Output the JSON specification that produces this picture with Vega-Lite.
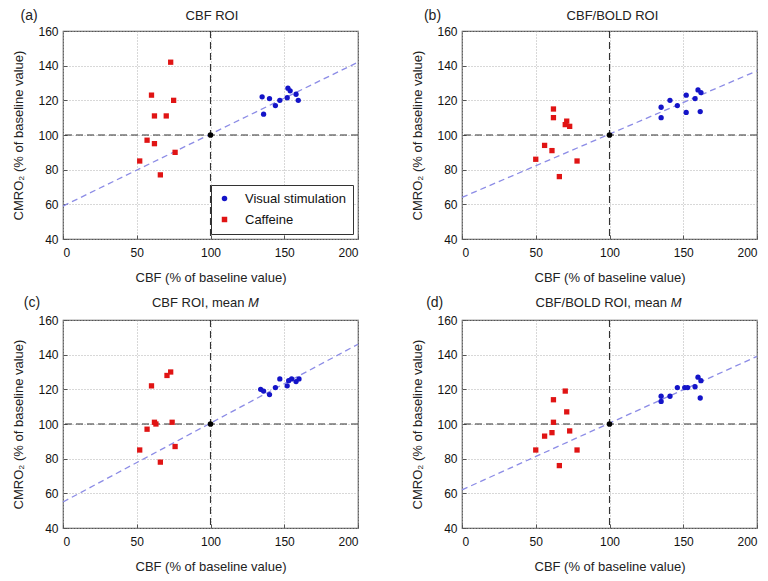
{
  "$schema": "https://vega.github.io/schema/vega-lite/v6.json",
  "background": "white",
  "padding": {"left": 12, "top": 8, "right": 5, "bottom": 4},
  "columns": 2,
  "spacing": {"row": 10, "column": 49},
  "resolve": {"scale": {"color": "independent", "shape": "independent"}, "legend": {"color": "independent", "shape": "independent"}},
  "datasets": {
    "one": [{"k": 1}],
    "pts": [
      {"p": "a", "g": "Caffeine", "cbf": 73, "cmro2": 142},
      {"p": "a", "g": "Caffeine", "cbf": 60, "cmro2": 123},
      {"p": "a", "g": "Caffeine", "cbf": 75, "cmro2": 120},
      {"p": "a", "g": "Caffeine", "cbf": 62, "cmro2": 111},
      {"p": "a", "g": "Caffeine", "cbf": 70, "cmro2": 111},
      {"p": "a", "g": "Caffeine", "cbf": 57, "cmro2": 97},
      {"p": "a", "g": "Caffeine", "cbf": 62, "cmro2": 95},
      {"p": "a", "g": "Caffeine", "cbf": 76, "cmro2": 90},
      {"p": "a", "g": "Caffeine", "cbf": 52, "cmro2": 85},
      {"p": "a", "g": "Caffeine", "cbf": 66, "cmro2": 77},
      {"p": "a", "g": "Visual stimulation", "cbf": 135, "cmro2": 122},
      {"p": "a", "g": "Visual stimulation", "cbf": 140, "cmro2": 121},
      {"p": "a", "g": "Visual stimulation", "cbf": 147, "cmro2": 120},
      {"p": "a", "g": "Visual stimulation", "cbf": 144, "cmro2": 117},
      {"p": "a", "g": "Visual stimulation", "cbf": 136, "cmro2": 112},
      {"p": "a", "g": "Visual stimulation", "cbf": 152, "cmro2": 121.5},
      {"p": "a", "g": "Visual stimulation", "cbf": 152.5, "cmro2": 127},
      {"p": "a", "g": "Visual stimulation", "cbf": 154, "cmro2": 125.5},
      {"p": "a", "g": "Visual stimulation", "cbf": 158, "cmro2": 123.5},
      {"p": "a", "g": "Visual stimulation", "cbf": 159.5, "cmro2": 120},
      {"p": "b", "g": "Caffeine", "cbf": 62, "cmro2": 115},
      {"p": "b", "g": "Caffeine", "cbf": 62, "cmro2": 110},
      {"p": "b", "g": "Caffeine", "cbf": 71, "cmro2": 108},
      {"p": "b", "g": "Caffeine", "cbf": 70, "cmro2": 106},
      {"p": "b", "g": "Caffeine", "cbf": 73, "cmro2": 105},
      {"p": "b", "g": "Caffeine", "cbf": 56, "cmro2": 94},
      {"p": "b", "g": "Caffeine", "cbf": 61, "cmro2": 91},
      {"p": "b", "g": "Caffeine", "cbf": 50, "cmro2": 86},
      {"p": "b", "g": "Caffeine", "cbf": 78, "cmro2": 85},
      {"p": "b", "g": "Caffeine", "cbf": 66, "cmro2": 76},
      {"p": "b", "g": "Visual stimulation", "cbf": 135, "cmro2": 116},
      {"p": "b", "g": "Visual stimulation", "cbf": 135, "cmro2": 110},
      {"p": "b", "g": "Visual stimulation", "cbf": 141, "cmro2": 120},
      {"p": "b", "g": "Visual stimulation", "cbf": 146, "cmro2": 117},
      {"p": "b", "g": "Visual stimulation", "cbf": 152, "cmro2": 123},
      {"p": "b", "g": "Visual stimulation", "cbf": 152, "cmro2": 113},
      {"p": "b", "g": "Visual stimulation", "cbf": 158, "cmro2": 121},
      {"p": "b", "g": "Visual stimulation", "cbf": 160, "cmro2": 126},
      {"p": "b", "g": "Visual stimulation", "cbf": 162, "cmro2": 124.5},
      {"p": "b", "g": "Visual stimulation", "cbf": 161.5, "cmro2": 113.5},
      {"p": "c", "g": "Caffeine", "cbf": 73, "cmro2": 130},
      {"p": "c", "g": "Caffeine", "cbf": 70.5, "cmro2": 128},
      {"p": "c", "g": "Caffeine", "cbf": 60, "cmro2": 122},
      {"p": "c", "g": "Caffeine", "cbf": 62, "cmro2": 101},
      {"p": "c", "g": "Caffeine", "cbf": 63, "cmro2": 100},
      {"p": "c", "g": "Caffeine", "cbf": 74, "cmro2": 101},
      {"p": "c", "g": "Caffeine", "cbf": 57, "cmro2": 97},
      {"p": "c", "g": "Caffeine", "cbf": 76, "cmro2": 87},
      {"p": "c", "g": "Caffeine", "cbf": 52, "cmro2": 85},
      {"p": "c", "g": "Caffeine", "cbf": 66, "cmro2": 78},
      {"p": "c", "g": "Visual stimulation", "cbf": 134, "cmro2": 120},
      {"p": "c", "g": "Visual stimulation", "cbf": 136, "cmro2": 119},
      {"p": "c", "g": "Visual stimulation", "cbf": 140, "cmro2": 117},
      {"p": "c", "g": "Visual stimulation", "cbf": 144, "cmro2": 121},
      {"p": "c", "g": "Visual stimulation", "cbf": 147, "cmro2": 126},
      {"p": "c", "g": "Visual stimulation", "cbf": 152, "cmro2": 122},
      {"p": "c", "g": "Visual stimulation", "cbf": 153, "cmro2": 125},
      {"p": "c", "g": "Visual stimulation", "cbf": 155, "cmro2": 126},
      {"p": "c", "g": "Visual stimulation", "cbf": 158, "cmro2": 124.5},
      {"p": "c", "g": "Visual stimulation", "cbf": 160, "cmro2": 126},
      {"p": "d", "g": "Caffeine", "cbf": 70, "cmro2": 119},
      {"p": "d", "g": "Caffeine", "cbf": 62, "cmro2": 114},
      {"p": "d", "g": "Caffeine", "cbf": 71, "cmro2": 107},
      {"p": "d", "g": "Caffeine", "cbf": 62, "cmro2": 101},
      {"p": "d", "g": "Caffeine", "cbf": 61, "cmro2": 95},
      {"p": "d", "g": "Caffeine", "cbf": 73, "cmro2": 96},
      {"p": "d", "g": "Caffeine", "cbf": 56, "cmro2": 93},
      {"p": "d", "g": "Caffeine", "cbf": 50, "cmro2": 85},
      {"p": "d", "g": "Caffeine", "cbf": 78, "cmro2": 85},
      {"p": "d", "g": "Caffeine", "cbf": 66, "cmro2": 76},
      {"p": "d", "g": "Visual stimulation", "cbf": 135, "cmro2": 116},
      {"p": "d", "g": "Visual stimulation", "cbf": 135, "cmro2": 113},
      {"p": "d", "g": "Visual stimulation", "cbf": 141, "cmro2": 116},
      {"p": "d", "g": "Visual stimulation", "cbf": 146, "cmro2": 121},
      {"p": "d", "g": "Visual stimulation", "cbf": 151, "cmro2": 121},
      {"p": "d", "g": "Visual stimulation", "cbf": 153, "cmro2": 121},
      {"p": "d", "g": "Visual stimulation", "cbf": 158, "cmro2": 121.5},
      {"p": "d", "g": "Visual stimulation", "cbf": 160, "cmro2": 127},
      {"p": "d", "g": "Visual stimulation", "cbf": 162, "cmro2": 125},
      {"p": "d", "g": "Visual stimulation", "cbf": 161.5, "cmro2": 115}
    ],
    "fits": [
      {"p": "a", "cbf": 0, "cmro2": 59},
      {"p": "a", "cbf": 200, "cmro2": 142},
      {"p": "b", "cbf": 0, "cmro2": 64},
      {"p": "b", "cbf": 200, "cmro2": 137},
      {"p": "c", "cbf": 0, "cmro2": 55},
      {"p": "c", "cbf": 200, "cmro2": 146},
      {"p": "d", "cbf": 0, "cmro2": 62},
      {"p": "d", "cbf": 200, "cmro2": 139}
    ]
  },
  "concat": [
    {
      "width": 295, "height": 208,
      "layer": [
        {"data": {"name": "fits"}, "transform": [{"filter": "datum.p === 'a'"}],
         "mark": {"type": "line", "color": "#8c8ce6", "strokeDash": [6, 4], "strokeWidth": 1.3},
         "encoding": {
           "x": {"field": "cbf", "type": "quantitative", "scale": {"domain": [0, 200], "nice": false}, "axis": {"title": "CBF (% of baseline value)", "values": [0, 50, 100, 150, 200]}},
           "y": {"field": "cmro2", "type": "quantitative", "scale": {"domain": [40, 160], "nice": false}, "axis": {"title": "CMRO₂ (% of baseline value)", "values": [40, 60, 80, 100, 120, 140, 160]}}}},
        {"data": {"name": "one"}, "mark": {"type": "rule", "color": "#333", "strokeDash": [7, 4], "strokeWidth": 1.1}, "encoding": {"x": {"datum": 100, "type": "quantitative"}}},
        {"data": {"name": "one"}, "mark": {"type": "rule", "color": "#333", "strokeDash": [7, 4], "strokeWidth": 1.1}, "encoding": {"y": {"datum": 100, "type": "quantitative"}}},
        {"data": {"name": "pts"}, "transform": [{"filter": "datum.p === 'a'"}],
         "mark": {"type": "point", "filled": true, "opacity": 1, "size": 28},
         "encoding": {
           "x": {"field": "cbf", "type": "quantitative"},
           "y": {"field": "cmro2", "type": "quantitative"},
           "color": {"field": "g", "type": "nominal", "scale": {"domain": ["Visual stimulation", "Caffeine"], "range": ["#1414c8", "#e01414"]}, "legend": {"title": null, "orient": "bottom-right", "offset": 5}},
           "shape": {"field": "g", "type": "nominal", "scale": {"domain": ["Visual stimulation", "Caffeine"], "range": ["circle", "square"]}, "legend": {"title": null, "orient": "bottom-right", "offset": 5}}}},
        {"data": {"name": "one"}, "mark": {"type": "point", "filled": true, "opacity": 1, "size": 32, "color": "black"}, "encoding": {"x": {"datum": 100, "type": "quantitative"}, "y": {"datum": 100, "type": "quantitative"}}},
        {"data": {"name": "one"}, "mark": {"type": "text", "fontSize": 14, "color": "#222"}, "encoding": {"x": {"datum": -23, "type": "quantitative"}, "y": {"datum": 168.7, "type": "quantitative"}, "text": {"value": "(a)"}}},
        {"data": {"name": "one"}, "mark": {"type": "text", "fontSize": 13, "color": "#222"}, "encoding": {"x": {"datum": 101, "type": "quantitative"}, "y": {"datum": 168.7, "type": "quantitative"}, "text": {"value": "CBF ROI"}}}
      ]
    },
    {
      "width": 295, "height": 208,
      "layer": [
        {"data": {"name": "fits"}, "transform": [{"filter": "datum.p === 'b'"}],
         "mark": {"type": "line", "color": "#8c8ce6", "strokeDash": [6, 4], "strokeWidth": 1.3},
         "encoding": {
           "x": {"field": "cbf", "type": "quantitative", "scale": {"domain": [0, 200], "nice": false}, "axis": {"title": "CBF (% of baseline value)", "values": [0, 50, 100, 150, 200]}},
           "y": {"field": "cmro2", "type": "quantitative", "scale": {"domain": [40, 160], "nice": false}, "axis": {"title": "CMRO₂ (% of baseline value)", "values": [40, 60, 80, 100, 120, 140, 160]}}}},
        {"data": {"name": "one"}, "mark": {"type": "rule", "color": "#333", "strokeDash": [7, 4], "strokeWidth": 1.1}, "encoding": {"x": {"datum": 100, "type": "quantitative"}}},
        {"data": {"name": "one"}, "mark": {"type": "rule", "color": "#333", "strokeDash": [7, 4], "strokeWidth": 1.1}, "encoding": {"y": {"datum": 100, "type": "quantitative"}}},
        {"data": {"name": "pts"}, "transform": [{"filter": "datum.p === 'b'"}],
         "mark": {"type": "point", "filled": true, "opacity": 1, "size": 28},
         "encoding": {
           "x": {"field": "cbf", "type": "quantitative"},
           "y": {"field": "cmro2", "type": "quantitative"},
           "color": {"field": "g", "type": "nominal", "scale": {"domain": ["Visual stimulation", "Caffeine"], "range": ["#1414c8", "#e01414"]}, "legend": null},
           "shape": {"field": "g", "type": "nominal", "scale": {"domain": ["Visual stimulation", "Caffeine"], "range": ["circle", "square"]}, "legend": null}}},
        {"data": {"name": "one"}, "mark": {"type": "point", "filled": true, "opacity": 1, "size": 32, "color": "black"}, "encoding": {"x": {"datum": 100, "type": "quantitative"}, "y": {"datum": 100, "type": "quantitative"}}},
        {"data": {"name": "one"}, "mark": {"type": "text", "fontSize": 14, "color": "#222"}, "encoding": {"x": {"datum": -20, "type": "quantitative"}, "y": {"datum": 168.7, "type": "quantitative"}, "text": {"value": "(b)"}}},
        {"data": {"name": "one"}, "mark": {"type": "text", "fontSize": 13, "color": "#222"}, "encoding": {"x": {"datum": 102, "type": "quantitative"}, "y": {"datum": 168.7, "type": "quantitative"}, "text": {"value": "CBF/BOLD ROI"}}}
      ]
    },
    {
      "width": 295, "height": 208,
      "layer": [
        {"data": {"name": "fits"}, "transform": [{"filter": "datum.p === 'c'"}],
         "mark": {"type": "line", "color": "#8c8ce6", "strokeDash": [6, 4], "strokeWidth": 1.3},
         "encoding": {
           "x": {"field": "cbf", "type": "quantitative", "scale": {"domain": [0, 200], "nice": false}, "axis": {"title": "CBF (% of baseline value)", "values": [0, 50, 100, 150, 200]}},
           "y": {"field": "cmro2", "type": "quantitative", "scale": {"domain": [40, 160], "nice": false}, "axis": {"title": "CMRO₂ (% of baseline value)", "values": [40, 60, 80, 100, 120, 140, 160]}}}},
        {"data": {"name": "one"}, "mark": {"type": "rule", "color": "#333", "strokeDash": [7, 4], "strokeWidth": 1.1}, "encoding": {"x": {"datum": 100, "type": "quantitative"}}},
        {"data": {"name": "one"}, "mark": {"type": "rule", "color": "#333", "strokeDash": [7, 4], "strokeWidth": 1.1}, "encoding": {"y": {"datum": 100, "type": "quantitative"}}},
        {"data": {"name": "pts"}, "transform": [{"filter": "datum.p === 'c'"}],
         "mark": {"type": "point", "filled": true, "opacity": 1, "size": 28},
         "encoding": {
           "x": {"field": "cbf", "type": "quantitative"},
           "y": {"field": "cmro2", "type": "quantitative"},
           "color": {"field": "g", "type": "nominal", "scale": {"domain": ["Visual stimulation", "Caffeine"], "range": ["#1414c8", "#e01414"]}, "legend": null},
           "shape": {"field": "g", "type": "nominal", "scale": {"domain": ["Visual stimulation", "Caffeine"], "range": ["circle", "square"]}, "legend": null}}},
        {"data": {"name": "one"}, "mark": {"type": "point", "filled": true, "opacity": 1, "size": 32, "color": "black"}, "encoding": {"x": {"datum": 100, "type": "quantitative"}, "y": {"datum": 100, "type": "quantitative"}}},
        {"data": {"name": "one"}, "mark": {"type": "text", "fontSize": 14, "color": "#222"}, "encoding": {"x": {"datum": -21, "type": "quantitative"}, "y": {"datum": 169.6, "type": "quantitative"}, "text": {"value": "(c)"}}},
        {"data": {"name": "one"}, "mark": {"type": "text", "fontSize": 13, "color": "#222", "align": "right"}, "encoding": {"x": {"datum": 123, "type": "quantitative"}, "y": {"datum": 169.6, "type": "quantitative"}, "text": {"value": "CBF ROI, mean"}}},
        {"data": {"name": "one"}, "mark": {"type": "text", "fontSize": 13, "color": "#222", "align": "left", "fontStyle": "italic"}, "encoding": {"x": {"datum": 125.5, "type": "quantitative"}, "y": {"datum": 169.6, "type": "quantitative"}, "text": {"value": "M"}}}
      ]
    },
    {
      "width": 295, "height": 208,
      "layer": [
        {"data": {"name": "fits"}, "transform": [{"filter": "datum.p === 'd'"}],
         "mark": {"type": "line", "color": "#8c8ce6", "strokeDash": [6, 4], "strokeWidth": 1.3},
         "encoding": {
           "x": {"field": "cbf", "type": "quantitative", "scale": {"domain": [0, 200], "nice": false}, "axis": {"title": "CBF (% of baseline value)", "values": [0, 50, 100, 150, 200]}},
           "y": {"field": "cmro2", "type": "quantitative", "scale": {"domain": [40, 160], "nice": false}, "axis": {"title": "CMRO₂ (% of baseline value)", "values": [40, 60, 80, 100, 120, 140, 160]}}}},
        {"data": {"name": "one"}, "mark": {"type": "rule", "color": "#333", "strokeDash": [7, 4], "strokeWidth": 1.1}, "encoding": {"x": {"datum": 100, "type": "quantitative"}}},
        {"data": {"name": "one"}, "mark": {"type": "rule", "color": "#333", "strokeDash": [7, 4], "strokeWidth": 1.1}, "encoding": {"y": {"datum": 100, "type": "quantitative"}}},
        {"data": {"name": "pts"}, "transform": [{"filter": "datum.p === 'd'"}],
         "mark": {"type": "point", "filled": true, "opacity": 1, "size": 28},
         "encoding": {
           "x": {"field": "cbf", "type": "quantitative"},
           "y": {"field": "cmro2", "type": "quantitative"},
           "color": {"field": "g", "type": "nominal", "scale": {"domain": ["Visual stimulation", "Caffeine"], "range": ["#1414c8", "#e01414"]}, "legend": null},
           "shape": {"field": "g", "type": "nominal", "scale": {"domain": ["Visual stimulation", "Caffeine"], "range": ["circle", "square"]}, "legend": null}}},
        {"data": {"name": "one"}, "mark": {"type": "point", "filled": true, "opacity": 1, "size": 32, "color": "black"}, "encoding": {"x": {"datum": 100, "type": "quantitative"}, "y": {"datum": 100, "type": "quantitative"}}},
        {"data": {"name": "one"}, "mark": {"type": "text", "fontSize": 14, "color": "#222"}, "encoding": {"x": {"datum": -18.5, "type": "quantitative"}, "y": {"datum": 169.6, "type": "quantitative"}, "text": {"value": "(d)"}}},
        {"data": {"name": "one"}, "mark": {"type": "text", "fontSize": 13, "color": "#222", "align": "right"}, "encoding": {"x": {"datum": 139, "type": "quantitative"}, "y": {"datum": 169.6, "type": "quantitative"}, "text": {"value": "CBF/BOLD ROI, mean"}}},
        {"data": {"name": "one"}, "mark": {"type": "text", "fontSize": 13, "color": "#222", "align": "left", "fontStyle": "italic"}, "encoding": {"x": {"datum": 141.5, "type": "quantitative"}, "y": {"datum": 169.6, "type": "quantitative"}, "text": {"value": "M"}}}
      ]
    }
  ],
  "config": {
    "font": "Liberation Sans",
    "view": {"stroke": "#555", "strokeWidth": 1.2},
    "axis": {
      "domain": false, "grid": true, "gridColor": "#b0b0b0", "gridDash": [1, 2], "gridWidth": 1,
      "ticks": true, "tickSize": -4, "tickColor": "#555", "tickWidth": 1,
      "labelFontSize": 12, "labelColor": "#111", "labelOverlap": false,
      "titleFontSize": 13, "titleFontWeight": "normal", "titleColor": "#222"
    },
    "axisX": {"titlePadding": 13, "labelPadding": 12},
    "axisY": {"titlePadding": 12, "tickCount": 7, "labelPadding": 9},
    "legend": {"strokeColor": "#333", "fillColor": "white", "padding": 7, "labelFontSize": 13, "labelColor": "#111", "symbolSize": 30, "rowPadding": 7, "labelOffset": 14, "cornerRadius": 0}
  }
}
